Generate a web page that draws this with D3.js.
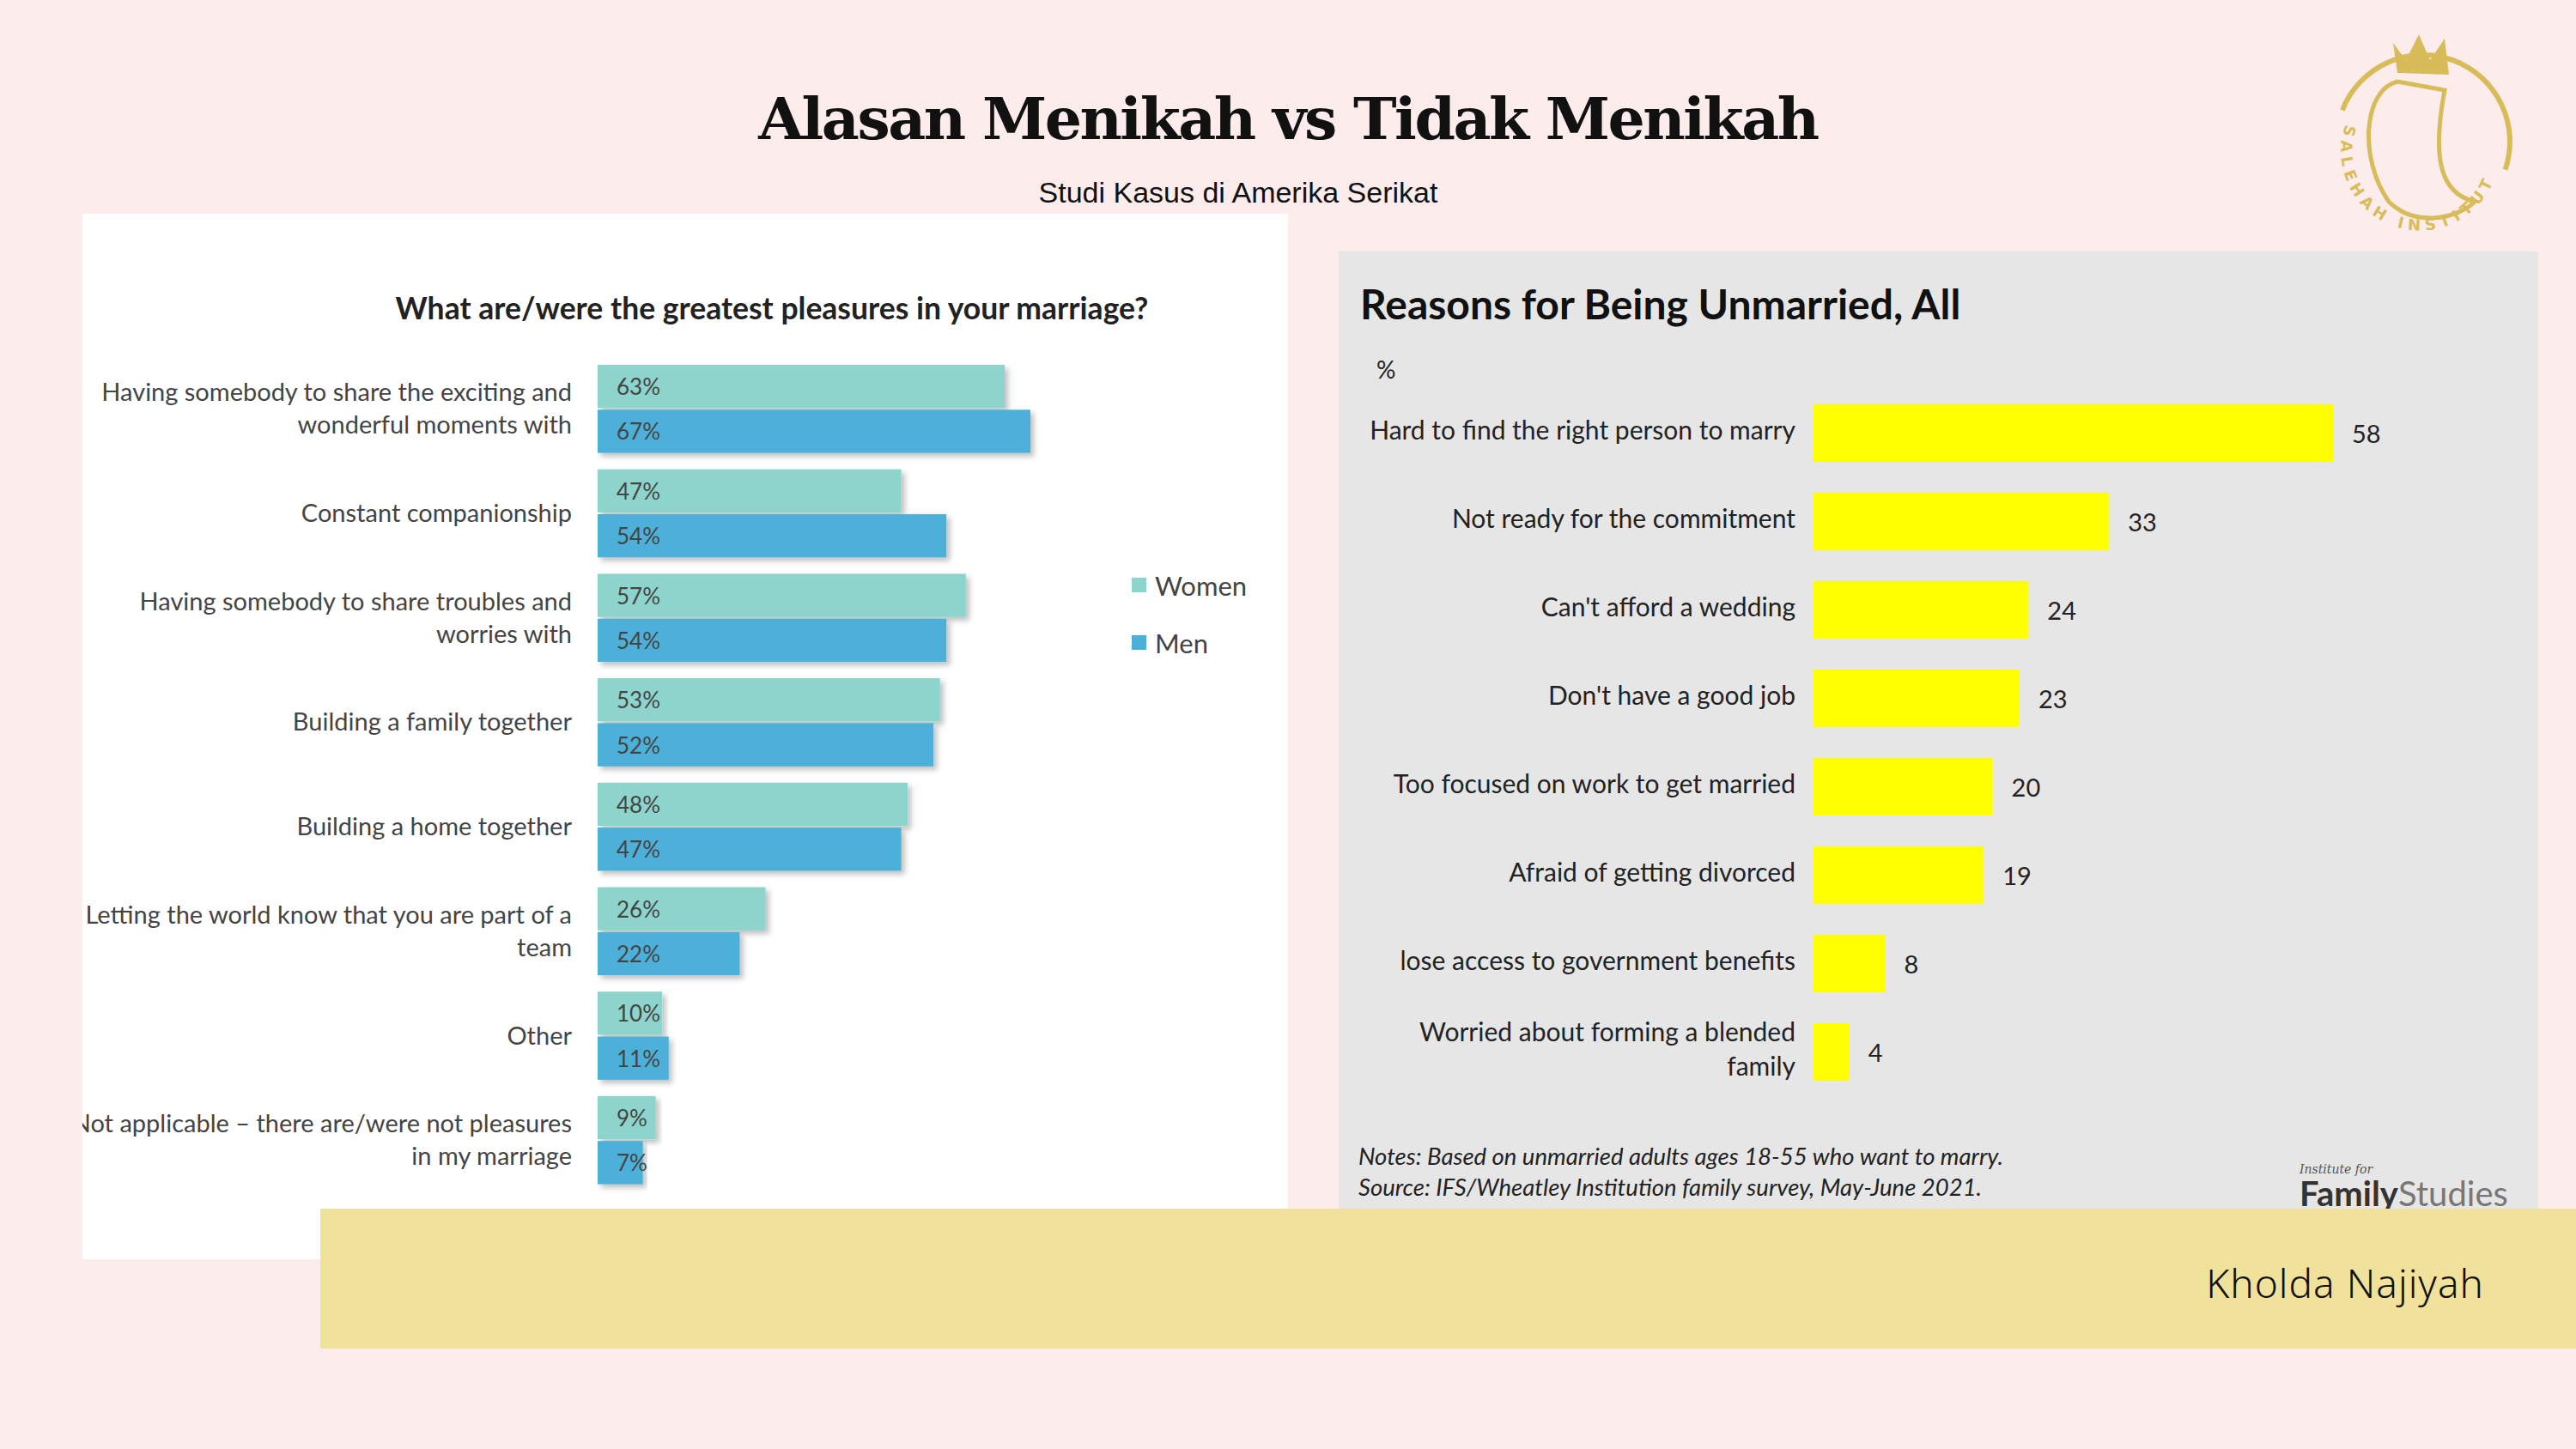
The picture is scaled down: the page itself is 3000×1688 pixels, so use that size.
<!DOCTYPE html>
<html><head><meta charset="utf-8">
<script src="https://cdn.jsdelivr.net/npm/d3@7"></script>
<style>body{margin:0;background:#fdecec;}svg{display:block}</style>
</head><body>
<script>
const leftCategories = [
  ["Having somebody to share the exciting and","wonderful moments with"],
  ["Constant companionship"],
  ["Having somebody to share troubles and","worries with"],
  ["Building a family together"],
  ["Building a home together"],
  ["Letting the world know that you are part of a","team"],
  ["Other"],
  ["Not applicable \u2013 there are/were not pleasures","in my marriage"]
];
const women = [63,47,57,53,48,26,10,9];
const men = [67,54,54,52,47,22,11,7];
const seriesNames = ["Women","Men"];
const rightCategories = [
  ["Hard to find the right person to marry"],
  ["Not ready for the commitment"],
  ["Can't afford a wedding"],
  ["Don't have a good job"],
  ["Too focused on work to get married"],
  ["Afraid of getting divorced"],
  ["lose access to government benefits"],
  ["Worried about forming a blended","family"]
];
const rightValues = [58,33,24,23,20,19,8,4];

const W=3000,H=1688;
const svg=d3.select("body").append("svg").attr("width",W).attr("height",H);
const defs=svg.append("defs");
const f=defs.append("filter").attr("id","sh").attr("x","-5%").attr("y","-10%").attr("width","115%").attr("height","140%");
f.append("feDropShadow").attr("dx",4).attr("dy",4).attr("stdDeviation",3).attr("flood-color","#000").attr("flood-opacity",0.25);
defs.append("clipPath").attr("id","lclip").append("rect").attr("x",96).attr("y",249).attr("width",1404).attr("height",1218);

svg.append("rect").attr("width",W).attr("height",H).attr("fill","#fdecec");
svg.append("text").attr("x",1500).attr("y",162).attr("text-anchor","middle")
  .attr("font-family","'DejaVu Serif','Liberation Serif',serif").attr("font-weight","bold").attr("font-size",68)
  .attr("fill","#111").attr("letter-spacing",-2.5).text("Alasan Menikah vs Tidak Menikah");
svg.append("text").attr("x",1442).attr("y",236).attr("text-anchor","middle")
  .attr("font-family","'Liberation Sans',Arial,sans-serif").attr("font-size",34).attr("fill","#111").text("Studi Kasus di Amerika Serikat");

// Left panel
svg.append("rect").attr("x",96).attr("y",249).attr("width",1404).attr("height",1218).attr("fill","#fff");
const L=svg.append("g").attr("clip-path","url(#lclip)").attr("font-family","Lato,'Open Sans',sans-serif");
L.append("text").attr("x",899).attr("y",372).attr("text-anchor","middle").attr("font-weight","bold").attr("font-size",35.5).attr("fill","#222")
  .text("What are/were the greatest pleasures in your marriage?");
const xL=d3.scaleLinear().domain([0,67]).range([696,1200]);
const yL=d3.scaleBand().domain(d3.range(leftCategories.length)).range([425,425+121.7*(8-0.14)]).paddingInner(0.14).paddingOuter(0);
const bh=yL.bandwidth()/2;
leftCategories.forEach((lab,i)=>{
  const y0=yL(i);
  [[women[i],"#8dd5cc"],[men[i],"#4db0d8"]].forEach(([v,c],k)=>{
    L.append("rect").attr("x",xL(0)).attr("y",y0+k*bh).attr("width",xL(v)-xL(0)).attr("height",bh-2).attr("fill",c).attr("filter","url(#sh)");
    L.append("text").attr("x",xL(0)+22).attr("y",y0+k*bh+bh/2+9).attr("font-size",26).attr("fill","#444").text(v+"%");
  });
  const t=L.append("text").attr("text-anchor","end").attr("font-size",29).attr("fill","#444");
  const cy=y0+bh;
  lab.forEach((s,j)=>t.append("tspan").attr("x",666).attr("y",cy+9+(j-(lab.length-1)/2)*38).text(s));
});
const lg=L.append("g");
seriesNames.forEach((n,i)=>{
  lg.append("rect").attr("x",1318).attr("y",673+i*67).attr("width",17).attr("height",17).attr("fill",i?"#4db0d8":"#8dd5cc");
  lg.append("text").attr("x",1345).attr("y",694+i*67).attr("font-size",31).attr("fill","#444").text(n);
});

// Right panel
svg.append("rect").attr("x",1559).attr("y",293).attr("width",1397).attr("height",1140).attr("fill","#e6e6e6");
const R=svg.append("g").attr("font-family","Lato,'Open Sans',sans-serif");
R.append("text").attr("x",1584).attr("y",372).attr("font-weight","bold").attr("font-size",48).attr("fill","#111").text("Reasons for Being Unmarried, All");
R.append("text").attr("x",1603).attr("y",441).attr("font-size",28).attr("fill","#222").text("%");
const xR=d3.scaleLinear().domain([0,58]).range([2112,2717]);
const yR=d3.scaleBand().domain(d3.range(rightCategories.length)).range([471,471+103*(8-0.35)]).paddingInner(0.35).paddingOuter(0);
rightCategories.forEach((lab,i)=>{
  const y0=yR(i),h=yR.bandwidth();
  R.append("rect").attr("x",xR(0)).attr("y",y0).attr("width",xR(rightValues[i])-xR(0)).attr("height",h).attr("fill","#ffff00");
  R.append("text").attr("x",xR(rightValues[i])+22).attr("y",y0+h/2+12).attr("font-size",29).attr("fill","#222").text(rightValues[i]);
  const t=R.append("text").attr("text-anchor","end").attr("font-size",30).attr("fill","#222");
  lab.forEach((s,j)=>t.append("tspan").attr("x",2091).attr("y",y0+h/2+8+(j-(lab.length-1)/2)*40).text(s));
});
R.append("text").attr("x",1582).attr("y",1357).attr("font-style","italic").attr("font-size",27.5).attr("fill","#222").text("Notes: Based on unmarried adults ages 18-55 who want to marry.");
R.append("text").attr("x",1582).attr("y",1393).attr("font-style","italic").attr("font-size",27.5).attr("fill","#222").text("Source: IFS/Wheatley Institution family survey, May-June 2021.");
R.append("text").attr("x",2678).attr("y",1367).attr("font-style","italic").attr("font-family","'DejaVu Serif',serif").attr("font-size",14).attr("fill","#555").text("Institute for");
const fs=R.append("text").attr("x",2678).attr("y",1405).attr("font-size",40).attr("fill","#333");
fs.append("tspan").attr("font-weight","bold").text("Family");
fs.append("tspan").attr("fill","#777").text("Studies");

// Yellow band
svg.append("rect").attr("x",373).attr("y",1408).attr("width",W-373).attr("height",163).attr("fill","#f1e29b");
svg.append("text").attr("x",2893).attr("y",1512).attr("text-anchor","end").attr("font-family","'Noto Sans',sans-serif").attr("font-weight",300)
  .attr("font-size",46).attr("fill","#111").attr("letter-spacing",1).text("Kholda Najiyah");

// Logo
const g=svg.append("g").attr("transform","translate(2822,165)");
const gold="#d9bc5a";
g.append("path").attr("d",d3.arc()({innerRadius:98,outerRadius:104,startAngle:-1.2,endAngle:1.9})).attr("fill",gold);
defs.append("path").attr("id","lp").attr("d","M -90 -20 A 92 92 0 0 0 80 50");
g.append("text").attr("font-family","'DejaVu Sans',sans-serif").attr("font-weight","bold").attr("font-size",18).attr("fill",gold).attr("letter-spacing",6)
  .append("textPath").attr("href","#lp").text("SALEHAH INSTITUTE");
g.append("path").attr("d","M -30 -80 L -35 -115 L -20 -95 L -5 -125 L 8 -95 L 25 -120 L 30 -78 Z").attr("fill",gold);
g.append("path").attr("d","M -30 -70 C -70 -60 -75 20 -40 70 C -10 100 40 90 60 70 C 20 60 10 20 25 -60 Z").attr("fill","none").attr("stroke",gold).attr("stroke-width",5);
</script>
</body></html>
